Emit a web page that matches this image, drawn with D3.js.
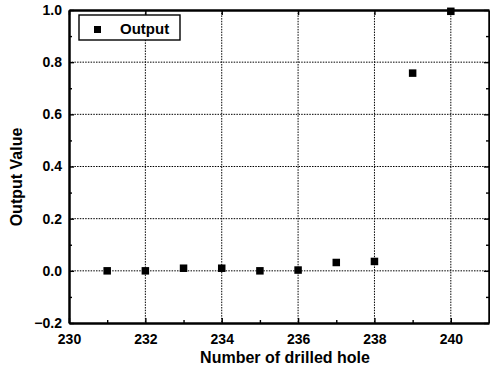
<!DOCTYPE html>
<html lang="en">
<head>
<meta charset="utf-8">
<title>Output</title>
<script src="https://d3js.org/d3.v7.min.js"></script>
<style>
  body { margin: 0; background: #fff; }
  text { font-family: "Liberation Sans", Arial, sans-serif; font-weight: bold; }
</style>
</head>
<body>
<div id="chart"></div>
<script>
// data
const holes = [231, 232, 233, 234, 235, 236, 237, 238, 239, 240];
const output = [0.0, 0.0, 0.01, 0.01, 0.0, 0.003, 0.032, 0.036, 0.758, 0.995];
const xTicks = [230, 232, 234, 236, 238, 240];
const yTicks = [-0.2, 0.0, 0.2, 0.4, 0.6, 0.8, 1.0];

const W = 490, H = 371;
const margin = {top: 10, right: 1, bottom: 48, left: 69};
const width = W - margin.left - margin.right,
      height = H - margin.top - margin.bottom;

const svg = d3.select("#chart").append("svg")
    .attr("width", W).attr("height", H);
const g = svg.append("g")
    .attr("transform", `translate(${margin.left},${margin.top})`);

const x = d3.scaleLinear().domain([230, 241]).range([0, width]);
const y = d3.scaleLinear().domain([-0.2, 1.0]).range([height, 0]);

// dotted grid
g.selectAll(".vgrid").data(xTicks.filter(d => d > 230))
  .join("line")
    .attr("x1", d => x(d)).attr("x2", d => x(d))
    .attr("y1", 0).attr("y2", height)
    .attr("stroke", "#000").attr("stroke-width", 1)
    .attr("stroke-dasharray", "1.5,1.2");
g.selectAll(".hgrid").data(yTicks.filter(d => d > -0.2 && d < 1.0))
  .join("line")
    .attr("x1", 0).attr("x2", width)
    .attr("y1", d => y(d)).attr("y2", d => y(d))
    .attr("stroke", "#000").attr("stroke-width", 1)
    .attr("stroke-dasharray", "1.5,1.2");

// axes with inward ticks
const minorX = d3.range(231, 241, 2);
const minorY = d3.range(-0.1, 1.0, 0.2);

g.append("g")
  .attr("transform", `translate(0,${height})`)
  .call(d3.axisBottom(x).tickValues(xTicks).tickFormat(d3.format("d"))
        .tickSizeInner(-5).tickSizeOuter(0).tickPadding(11))
  .call(a => a.select(".domain").attr("stroke-width", 2.5));
g.append("g")
  .attr("transform", `translate(0,${height})`)
  .call(d3.axisBottom(x).tickValues(minorX).tickFormat("")
        .tickSizeInner(-3).tickSizeOuter(0))
  .call(a => a.select(".domain").remove());

g.append("g")
  .call(d3.axisLeft(y).tickValues(yTicks).tickFormat(d3.format(".1f"))
        .tickSizeInner(-5).tickSizeOuter(0).tickPadding(7))
  .call(a => a.select(".domain").attr("stroke-width", 2.5));
g.append("g")
  .call(d3.axisLeft(y).tickValues(minorY).tickFormat("")
        .tickSizeInner(-3).tickSizeOuter(0))
  .call(a => a.select(".domain").remove());

g.append("g")
  .call(d3.axisTop(x).tickValues(xTicks).tickFormat("")
        .tickSizeInner(-5).tickSizeOuter(0))
  .call(a => a.select(".domain").attr("stroke-width", 2.5));
g.append("g")
  .attr("transform", `translate(${width},0)`)
  .call(d3.axisRight(y).tickValues(yTicks).tickFormat("")
        .tickSizeInner(-5).tickSizeOuter(0))
  .call(a => a.select(".domain").attr("stroke-width", 2.5));
g.append("g")
  .attr("transform", `translate(${width},0)`)
  .call(d3.axisRight(y).tickValues(minorY).tickFormat("")
        .tickSizeInner(-3).tickSizeOuter(0))
  .call(a => a.select(".domain").remove());

g.selectAll(".tick text")
  .attr("font-size", 14).attr("font-family", "Liberation Sans, Arial, sans-serif")
  .attr("font-weight", "bold").attr("fill", "#000");
g.selectAll(".tick line").attr("stroke", "#000").attr("stroke-width", 1.4);

// points
const sz = 7.5;
g.selectAll(".pt").data(holes.map((h, i) => ({h, v: output[i]})))
  .join("rect")
    .attr("x", d => x(d.h) - sz / 2)
    .attr("y", d => y(d.v) - sz / 2)
    .attr("width", sz).attr("height", sz)
    .attr("fill", "#000");

// legend
const lg = g.append("g").attr("transform", "translate(10,5)");
lg.append("rect").attr("width", 101).attr("height", 25)
  .attr("fill", "#fff").attr("stroke", "#000").attr("stroke-width", 1.4);
lg.append("rect").attr("x", 15).attr("y", 11).attr("width", 7).attr("height", 7)
  .attr("fill", "#000");
lg.append("text").attr("x", 41).attr("y", 19)
  .attr("font-size", 15).text("Output");

// axis titles
svg.append("text")
  .attr("x", margin.left + x(235.5) + 6).attr("y", 363)
  .attr("text-anchor", "middle").attr("font-size", 16)
  .text("Number of drilled hole");
svg.append("text")
  .attr("transform", "translate(22,177) rotate(-90)")
  .attr("text-anchor", "middle").attr("font-size", 16)
  .text("Output Value");
</script>
</body>
</html>
